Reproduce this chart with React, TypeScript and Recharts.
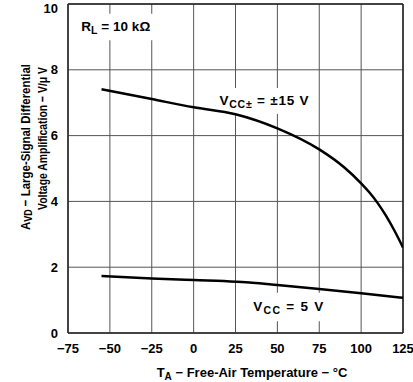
import React from "react"
import {
  LineChart,
  Line,
  XAxis,
  YAxis,
  CartesianGrid,
  ReferenceArea,
  ReferenceLine,
  Label,
} from "recharts"

// ±15 V supply curve
const hiTemps = [-55, -25, 0, 25, 50, 75, 90, 100, 105, 110, 115, 120, 125]
const hiGain = [7.41, 7.11, 6.86, 6.65, 6.22, 5.58, 5.03, 4.55, 4.27, 3.94, 3.55, 3.1, 2.6]

// 5 V supply curve
const loTemps = [-55, -25, 0, 25, 35, 50, 75, 100, 125]
const loGain = [1.73, 1.66, 1.61, 1.56, 1.53, 1.46, 1.34, 1.21, 1.07]

const xTicks = [-75, -50, -25, 0, 25, 50, 75, 100, 125]
const yTicks = [0, 2, 4, 6, 8, 10]

const hiData = hiTemps.map((t, i) => ({ t, v: hiGain[i] }))
const loData = loTemps.map((t, i) => ({ t, v: loGain[i] }))

const FONT = "'Liberation Sans', Arial, sans-serif"
const minus = (v: number) => String(v).replace("-", "\u2212")

// label drawn in the middle of a white box that hides the grid
function boxText(parts: React.ReactNode, len: number) {
  return (props: any) => {
    const vb = props.viewBox || {}
    const cx = vb.x + vb.width / 2
    const cy = vb.y + vb.height / 2
    return (
      <text
        x={cx}
        y={cy + 4}
        textAnchor="middle"
        fontFamily={FONT}
        fontWeight="bold"
        fontSize={13.5}
        fill="#000"
        textLength={len}
        lengthAdjust="spacing"
      >
        {parts}
      </text>
    )
  }
}

const yTitle = () => (
  <g fontFamily={FONT} fontWeight="bold" fontSize={13.5} fill="#000">
    <text
      x={25}
      y={147}
      transform="rotate(-90 25 147)"
      textAnchor="middle"
      dominantBaseline="central"
      textLength={166}
      lengthAdjust="spacingAndGlyphs"
    >
      A<tspan dy={3} fontSize={10.5}>VD</tspan>
      <tspan dy={-3}> {"\u2212"} Large-Signal Differential</tspan>
    </text>
    <text
      x={42}
      y={138.5}
      transform="rotate(-90 42 138.5)"
      textAnchor="middle"
      dominantBaseline="central"
      textLength={143}
      lengthAdjust="spacingAndGlyphs"
    >
      Voltage Amplification {"\u2212"} V/{"\u03bc"} V
    </text>
  </g>
)

const xTitle = () => (
  <text x={252} y={377} textAnchor="middle" fontFamily={FONT} fontWeight="bold" fontSize={13} fill="#000">
    T<tspan dy={3} fontSize={10}>A</tspan>
    <tspan dy={-3}> {"\u2212"} Free-Air Temperature {"\u2212"} {"\u00b0"}C</tspan>
  </text>
)

export default function App() {
  return (
    <div style={{ position: "absolute", left: 0, top: 0, background: "#fff" }}>
      <LineChart width={413} height={382} margin={{ top: 4, right: 10, bottom: 0, left: 0 }}>
        <CartesianGrid stroke="#555" strokeWidth={1} />
        <XAxis
          type="number"
          dataKey="t"
          domain={[-75, 125]}
          ticks={xTicks}
          tickFormatter={minus}
          tickLine={false}
          axisLine={{ stroke: "#222", strokeWidth: 1.5 }}
          height={49}
          tick={{ fill: "#000", fontFamily: FONT, fontWeight: "bold", fontSize: 13, dy: 3 }}
          allowDataOverflow
        >
          <Label content={xTitle} />
        </XAxis>
        <YAxis
          type="number"
          domain={[0, 10]}
          ticks={yTicks}
          tickLine={false}
          axisLine={{ stroke: "#222", strokeWidth: 1.5 }}
          width={68}
          tick={{ fill: "#000", fontFamily: FONT, fontWeight: "bold", fontSize: 13, dx: -2 }}
          allowDataOverflow
        >
          <Label content={yTitle} />
        </YAxis>
        <ReferenceLine y={10} stroke="#222" strokeWidth={1.5} />
        <ReferenceLine x={125} stroke="#222" strokeWidth={1.5} />
        <ReferenceArea
          x1={-71}
          x2={-22}
          y1={8.9}
          y2={9.7}
          fill="#fff"
          fillOpacity={1}
          stroke="none"
          label={boxText(
            <>
              R<tspan dy={3} fontSize={10.5}>L</tspan>
              <tspan dy={-3}> = 10 k{"\u03a9"}</tspan>
            </>,
            69
          )}
        />
        <ReferenceArea
          x1={13}
          x2={71}
          y1={6.66}
          y2={7.45}
          fill="#fff"
          fillOpacity={1}
          stroke="none"
          label={boxText(
            <>
              V<tspan dy={3} fontSize={10.5}>CC{"\u00b1"}</tspan>
              <tspan dy={-3}> =  {"\u00b1"}15 V</tspan>
            </>,
            89
          )}
        />
        <ReferenceArea
          x1={34}
          x2={79}
          y1={0.36}
          y2={1.22}
          fill="#fff"
          fillOpacity={1}
          stroke="none"
          label={boxText(
            <>
              V<tspan dy={3} fontSize={10.5}>CC</tspan>
              <tspan dy={-3}> = 5 V</tspan>
            </>,
            70
          )}
        />
        <Line
          data={hiData}
          dataKey="v"
          type="monotone"
          stroke="#000"
          strokeWidth={2.5}
          dot={false}
          isAnimationActive={false}
        />
        <Line
          data={loData}
          dataKey="v"
          type="monotone"
          stroke="#000"
          strokeWidth={2.5}
          dot={false}
          isAnimationActive={false}
        />
      </LineChart>
    </div>
  )
}
